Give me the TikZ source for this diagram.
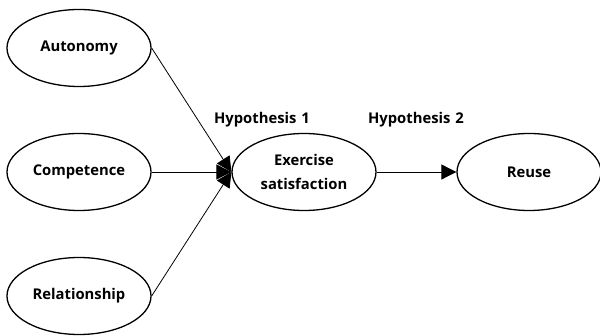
\documentclass[tikz,border=0pt]{standalone}
\usepackage{fontspec}
\setmainfont{Open Sans}
\usetikzlibrary{arrows.meta,shapes.geometric}
\begin{document}
\begin{tikzpicture}[x=1pt,y=-1pt,
  oval/.style={ellipse, draw, line width=1.3pt, minimum width=144pt, minimum height=77pt, inner sep=0pt, align=center, font=\bfseries\fontsize{14.8}{24}\selectfont},
  conn/.style={line width=0.8pt, -{Triangle[length=15pt,width=15pt]}},
  lbl/.style={font=\bfseries\fontsize{14.8}{15}\selectfont, inner sep=0pt}]
\useasboundingbox (0,0) rectangle (600,336);
\node[oval] (aut) at (79,48) {Autonomy};
\node[oval] (com) at (79,172) {Competence};
\node[oval] (rel) at (79,296) {Relationship};
\node[oval] (ex) at (304,172) {Exercise\\satisfaction};
\node[oval] (re) at (529,172) {Reuse};
\node[lbl] (h1) at (262,120) {Hypothesis\,\,1};
\node[lbl] (h2) at (416,120) {Hypothesis\,\,2};
\draw[conn] (aut.east) -- (ex.west);
\draw[conn] (com.east) -- (ex.west);
\draw[conn] (rel.east) -- (ex.west);
\draw[conn] (ex.east) -- (re.west);
\end{tikzpicture}
\end{document}
